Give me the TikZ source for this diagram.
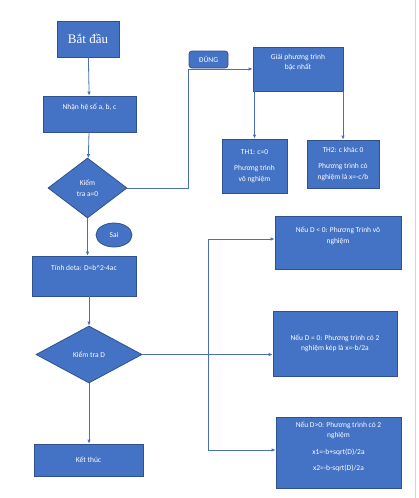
\documentclass[tikz,border=0pt]{standalone}
\usepackage{fontspec}
\setmainfont{Carlito}
\newfontfamily\titlefont{Liberation Serif}
\usetikzlibrary{shapes.geometric,arrows.meta}
\definecolor{boxfill}{HTML}{4472C4}
\definecolor{boxline}{HTML}{2F528F}
\definecolor{linkcol}{HTML}{4A6FB8}
\definecolor{pageedge}{HTML}{D4D4D4}
\tikzset{
  x=1pt, y=-1pt,
  base/.style={fill=boxfill, draw=boxline, line width=0.8pt, text=white,
    font=\fontsize{7.5}{10.5}\selectfont, align=center, inner sep=2pt},
  procbox/.style={base, rectangle, minimum width=#1},
  decision/.style={base, diamond, inner sep=0pt},
  label/.style={base, rounded corners=3pt},
  oval/.style={base, ellipse, inner sep=0pt},
  link/.style={draw=linkcol, line width=0.8pt},
  arrow/.style={link, -{Latex[length=4pt,width=3.5pt]}}
}
\begin{document}
\begin{tikzpicture}
\useasboundingbox (0,0) rectangle (418,498);
% page edge
\draw[pageedge, line width=0.8pt] (415,0) -- (415,498);

% left column
\node[procbox=62, minimum height=36, font=\titlefont\fontsize{13}{15}\selectfont] (start) at (88,39) {Bắt đầu};
\node[procbox=93, minimum height=36] (input) at (89.5,114) {Nhận hệ số a, b, c\\[4pt]};
\node[decision, minimum width=79, minimum height=60] (d1) at (87.5,188) {Kiểm\\tra a=0};
\node[oval, minimum width=36, minimum height=24] (sai) at (114,235) {Sai};
\node[procbox=104, minimum height=40] (delta) at (84,276) {Tính deta: D=b\^{}2-4ac\\[6pt]};
\node[decision, minimum width=106, minimum height=57] (d2) at (89,354.5) {Kiểm tra D};
\node[procbox=109, minimum height=32] (end) at (88.5,460) {Kết thúc};

% linear branch
\node[label, minimum width=39, minimum height=17] (dung) at (208.5,59.5) {ĐÚNG};
\node[procbox=90, minimum height=44] (giai) at (298,69) {Giải phương trình\\bậc nhất\\[4pt]};
\node[procbox=65, minimum height=54] (th1) at (254.5,166) {TH1: c=0\\[6pt]Phương trình\\vô nghiệm};
\node[procbox=72, minimum height=48] (th2) at (343,164) {TH2: c khác 0\\[6pt]Phương trình có\\nghiệm là x=-c/b};

% discriminant cases
\node[procbox=126, minimum height=53] (r1) at (338,242.5) {Nếu D < 0: Phương Trình vô\\nghiệm\\[4pt]};
\node[procbox=124, minimum height=65] (r2) at (335,343.5) {Nếu D = 0: Phương trình có 2\\nghiệm kép là x=-b/2a};
\node[procbox=125, minimum height=71] (r3) at (338.5,452.5) {Nếu D>0: Phương trình có 2\\nghiệm\\[6pt]x1=-b+sqrt(D)/2a\\[6pt]x2=-b-sqrt(D)/2a\\[2pt]};

\coordinate (bt) at (208,239);
\coordinate (bb) at (208,450);

% connectors
\draw[arrow] (start) -- (input);
\draw[arrow] (input) -- (d1);
\draw[arrow] (d1.east) -- (d1.east -| dung.west) |- (giai.west);
\draw[arrow] (th1.north |- giai.south) -- (th1.north);
\draw[arrow] (th2.north |- giai.south) -- (th2.north);
\draw[arrow] (d1.south) -- (d1.south |- delta.north);
\draw[arrow] (d2.north |- delta.south) -- (d2.north);
\draw[arrow] (d2.south) -- (d2.south |- end.north);
\draw[link] (bt) -- (bb);
\draw[arrow] (d2.east) -- (d2.east -| r2.west);
\draw[arrow] (bt) -- (bt -| r1.west);
\draw[arrow] (bb) -- (bb -| r3.west);
\end{tikzpicture}
\end{document}
